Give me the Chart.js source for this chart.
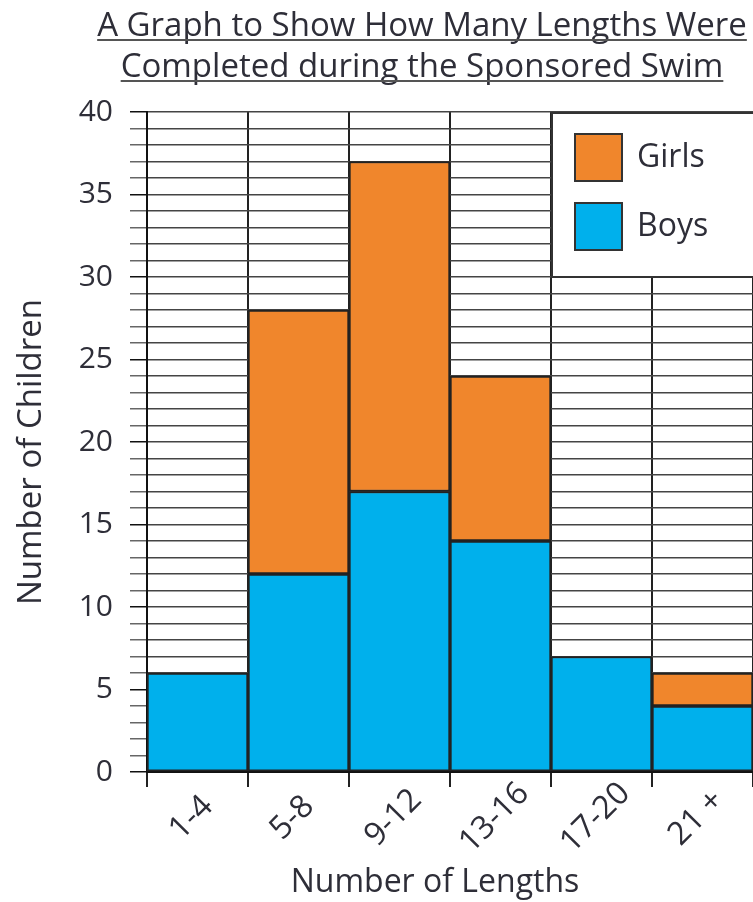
<!DOCTYPE html>
<html><head><meta charset="utf-8">
<script src="https://cdn.jsdelivr.net/npm/chart.js@4.4.1/dist/chart.umd.min.js"></script>
<style>html,body{margin:0;padding:0;background:#fff;}</style>
</head><body>
<canvas id="c" width="753" height="902"></canvas>
<script>
const titleLines = ['A Graph to Show How Many Lengths Were', 'Completed during the Sponsored Swim'];
const categories = ['1-4', '5-8', '9-12', '13-16', '17-20', '21 +'];
const boys  = [6, 12, 17, 14, 7, 4];
const girls = [0, 16, 20, 10, 0, 2];
const yMin = 0, yMax = 40, yStep = 1, yLabelEvery = 5;
const xTitle = 'Number of Lengths';
const yTitle = 'Number of Children';
const legendTopValue = 30; // legend box reaches down to this value

const FONT = 'Open Sans';
const TEXT = '#2e2e38';
const BOY = '#00B0EC';
const GIRL = '#F0862C';
const font = (s) => s + 'px "' + FONT + '"';

const textPlugin = {
  id: 'texts',
  afterDraw(chart) {
    const {ctx, chartArea, scales} = chart;
    ctx.save();
    ctx.fillStyle = TEXT;
    // title with underline
    ctx.font = font(33);
    ctx.textAlign = 'center';
    ctx.textBaseline = 'alphabetic';
    const cx = 422;
    const baselines = [36, 77];
    titleLines.forEach((t, i) => {
      ctx.fillText(t, cx, baselines[i]);
      const w = ctx.measureText(t).width;
      ctx.strokeStyle = '#555';
      ctx.lineWidth = 2;
      ctx.beginPath();
      ctx.moveTo(cx - w / 2, baselines[i] + 4);
      ctx.lineTo(cx + w / 2, baselines[i] + 4);
      ctx.stroke();
    });
    // x tick labels, rotated and centred
    ctx.font = font(32);
    ctx.textAlign = 'center';
    ctx.textBaseline = 'middle';
    chart.data.labels.forEach((lab, i) => {
      const px = scales.x.getPixelForTick(i);
      ctx.save();
      ctx.translate(px - 6, chartArea.bottom + 46);
      ctx.rotate(-Math.PI / 4);
      ctx.fillText(lab, 0, 0);
      ctx.restore();
    });
    // x axis title
    ctx.font = font(32);
    ctx.textBaseline = 'alphabetic';
    ctx.fillText(xTitle, 435, 892);
    // y axis title
    ctx.save();
    ctx.font = font(33);
    ctx.translate(41, 452);
    ctx.rotate(-Math.PI / 2);
    ctx.fillText(yTitle, 0, 0);
    ctx.restore();
    ctx.restore();
  }
};

const legendPlugin = {
  id: 'boxLegend',
  afterDraw(chart) {
    const {ctx, chartArea, scales} = chart;
    const x0 = (scales.x.getPixelForValue(3) + scales.x.getPixelForValue(4)) / 2;
    const y0 = chartArea.top;
    const x1 = chartArea.right;
    const y1 = scales.y.getPixelForValue(legendTopValue);
    ctx.save();
    ctx.fillStyle = '#fff';
    ctx.fillRect(x0, y0, x1 - x0, y1 - y0);
    ctx.strokeStyle = '#333';
    ctx.lineWidth = 2;
    ctx.strokeRect(x0 + 1, y0 + 1, x1 - x0 + 4, y1 - y0 - 1);
    const items = chart.data.datasets.slice().reverse();
    items.forEach((ds, i) => {
      const sx = x0 + 24, sy = y0 + 22 + i * 69, s = 47;
      ctx.fillStyle = ds.backgroundColor;
      ctx.fillRect(sx, sy, s, s);
      ctx.strokeStyle = '#333';
      ctx.lineWidth = 2;
      ctx.strokeRect(sx, sy, s, s);
      ctx.fillStyle = TEXT;
      ctx.font = font(32);
      ctx.textAlign = 'left';
      ctx.textBaseline = 'middle';
      ctx.fillText(ds.label, sx + s + 15, sy + s / 2);
    });
    ctx.restore();
  }
};

new Chart(document.getElementById('c'), {
  type: 'bar',
  data: {
    labels: categories,
    datasets: [
      {label: 'Boys', data: boys, backgroundColor: BOY, borderColor: '#222', borderWidth: 2, borderSkipped: false},
      {label: 'Girls', data: girls, backgroundColor: GIRL, borderColor: '#222', borderWidth: 2, borderSkipped: false}
    ]
  },
  options: {
    responsive: false,
    animation: false,
    layout: {padding: {top: 112, left: 0, right: 0, bottom: 0}},
    plugins: {legend: {display: false}, title: {display: false}, tooltip: {enabled: false}},
    datasets: {bar: {barPercentage: 1, categoryPercentage: 1}},
    scales: {
      x: {
        stacked: true,
        afterFit(s) { s.height = 130; },
        grid: {offset: true, color: '#222', lineWidth: 2, tickLength: 15, drawTicks: true},
        border: {color: '#111', width: 2},
        ticks: {display: false, autoSkip: false},
        title: {display: false}
      },
      y: {
        stacked: true,
        min: yMin, max: yMax,
        afterFit(s) { s.width = 147; },
        grid: {color: '#444', lineWidth: 1.5, tickLength: 17,
               tickColor: (c) => (c.tick && c.tick.value % yLabelEvery === 0) ? '#111' : '#666'},
        border: {color: '#111', width: 2},
        ticks: {stepSize: yStep, autoSkip: false, color: TEXT, font: {family: FONT, size: 30}, padding: 17,
                callback: (v) => (v % yLabelEvery === 0 ? String(v) : '')},
        title: {display: false}
      }
    }
  },
  plugins: [legendPlugin, textPlugin]
});
</script>
</body></html>
